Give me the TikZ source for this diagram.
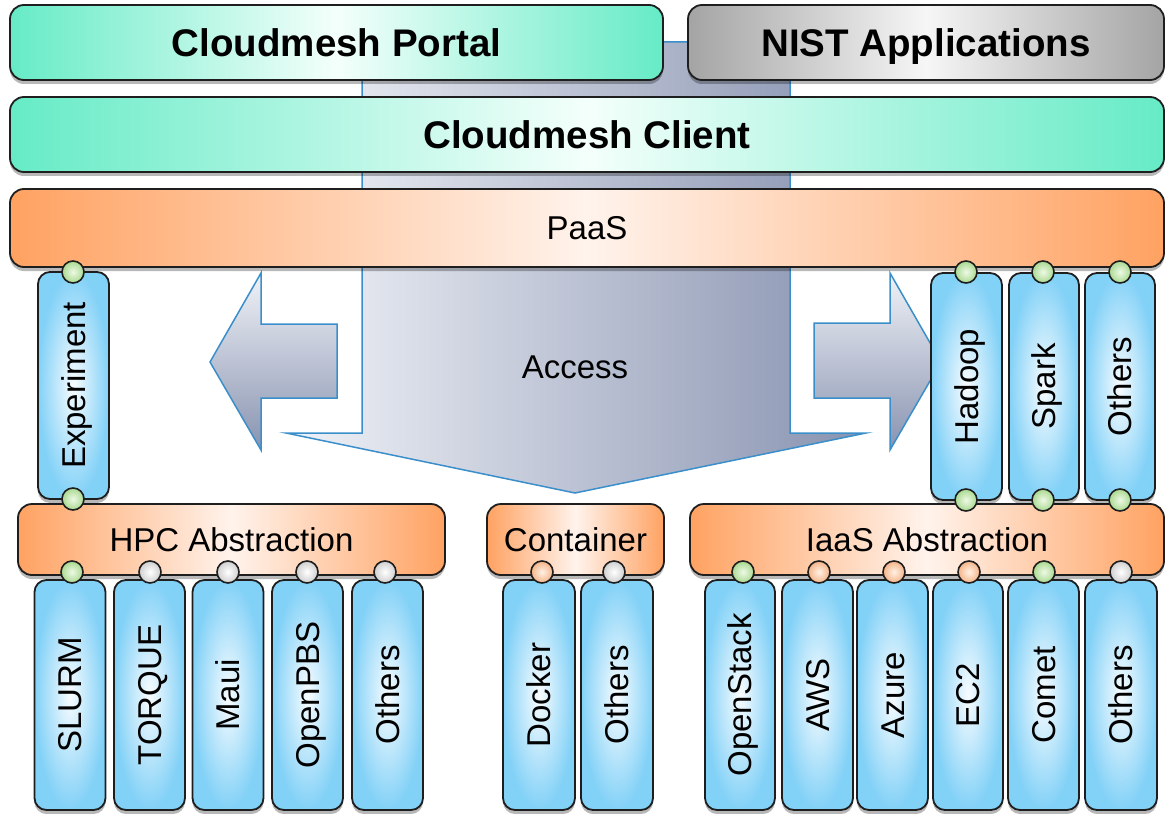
\documentclass[tikz,border=0pt]{standalone}
\usepackage{fontspec}
\setmainfont{Liberation Sans}
\usetikzlibrary{shadows}
\definecolor{mint}{HTML}{66EBC6}
\definecolor{mintlight}{HTML}{F4FFFB}
\definecolor{grayend}{HTML}{A4A4A4}
\definecolor{graymid}{HTML}{F6F6F6}
\definecolor{orng}{HTML}{FFA262}
\definecolor{orngmid}{HTML}{FFF3EC}
\definecolor{colblue}{HTML}{82D1F7}
\definecolor{colin}{HTML}{F8FCFF}
\definecolor{edge}{HTML}{1E1E1E}
\definecolor{arrline}{HTML}{3A8FCB}
\definecolor{arrlight}{HTML}{F0F2F7}
\definecolor{arrdark}{HTML}{8893B0}
\definecolor{grn}{HTML}{A9D98F}
\definecolor{grnin}{HTML}{EEF9E6}
\definecolor{orc}{HTML}{F5B488}
\definecolor{orcin}{HTML}{FFF1E4}
\definecolor{whc}{HTML}{CFCFCF}
\definecolor{whcin}{HTML}{FFFFFF}
\newcommand\vlab[1]{\rotatebox{90}{\raisebox{0pt}[23.6pt][0pt]{#1}}}
\begin{document}
\begin{tikzpicture}[x=1pt,y=-1pt,
  shad/.style={drop shadow={shadow xshift=0pt,shadow yshift=-4pt,opacity=0.28,fill=black}},
  base/.style={draw=edge,line width=1.8pt,rounded corners=14pt,inner sep=0pt,shad},
  bigbox/.style={base,minimum height=75pt,font=\fontsize{38.5}{40}\selectfont\bfseries,text height=27.6pt,text depth=0pt},
  mintbox/.style={bigbox,left color=mint,right color=mint,middle color=mintlight},
  graybox/.style={bigbox,left color=grayend,right color=grayend,middle color=graymid},
  orbox/.style={base,left color=orng,right color=orng,middle color=orngmid,font=\fontsize{33}{36}\selectfont,text height=23.6pt,text depth=0pt},
  col/.style={base,rounded corners=12pt,minimum width=71pt,inner color=colin,outer color=colblue,font=\fontsize{33}{36}\selectfont},
  topcol/.style={col,minimum height=227pt},
  botcol/.style={col,minimum height=230pt},
  port/.style={circle,draw=edge,line width=1.6pt,minimum size=22pt,inner sep=0pt},
  gp/.style={port,inner color=grnin,outer color=grn},
  op/.style={port,inner color=orcin,outer color=orc},
  wp/.style={port,inner color=whcin,outer color=whc},
  flow/.style={draw=arrline,line width=1.5pt},
]
\useasboundingbox (0,0) rectangle (1166,813);

% access arrow (behind)
\path[flow,left color=arrlight,right color=arrdark]
  (362,42) -- (362,433) -- (286,433) -- (575,493) -- (866,433) -- (790,433) -- (790,42) -- cycle;
\path[flow,top color=arrlight,bottom color=arrdark]
  (210,362) -- (261,273) -- (261,324) -- (337,324) -- (337,398) -- (261,398) -- (261,450) -- cycle;
\path[flow,top color=arrlight,bottom color=arrdark]
  (941,362) -- (890,273) -- (890,323) -- (814,323) -- (814,398) -- (890,398) -- (890,450) -- cycle;
\node[font=\fontsize{33}{36}\selectfont] (access) at (575,367) {Access};

% top layers
\node[mintbox,minimum width=653pt] (portal) at (336.5,42.5) {Cloudmesh Portal};
\node[graybox,minimum width=476pt] (nist) at (926,42.5) {NIST Applications};
\node[mintbox,minimum width=1154pt] (client) at (587,134.5) {Cloudmesh Client};
\node[orbox,minimum width=1154pt,minimum height=78pt] (paas) at (587,228) {PaaS};

% abstraction layers
\node[orbox,minimum width=427pt,minimum height=71pt] (hpc) at (231.5,539.5) {HPC Abstraction};
\node[orbox,minimum width=177pt,minimum height=71pt] (cont) at (575.5,539.5) {Container};
\node[orbox,minimum width=474pt,minimum height=71pt] (iaas) at (927,539.5) {IaaS Abstraction};

% upper columns
\node[topcol] (exp) at (73.5,385.5) {\vlab{Experiment}};
\node[topcol] (hadoop) at (966.5,386.5) {\vlab{Hadoop}};
\node[topcol,minimum width=70pt] (spark) at (1044,386.5) {\vlab{Spark}};
\node[topcol,minimum width=70pt] (others1) at (1120,386.5) {\vlab{Others}};

% lower columns
\node[botcol] (slurm) at (70,695) {\vlab{SLURM}};
\node[botcol] (torque) at (149.5,695) {\vlab{TORQUE}};
\node[botcol] (maui) at (228,695) {\vlab{Maui}};
\node[botcol] (openpbs) at (307.5,695) {\vlab{OpenPBS}};
\node[botcol] (others2) at (387.5,695) {\vlab{Others}};
\node[botcol,minimum width=72pt] (docker) at (539,695) {\vlab{Docker}};
\node[botcol,minimum width=72pt] (others3) at (617,695) {\vlab{Others}};
\node[botcol,minimum width=70pt] (openstack) at (740,695) {\vlab{OpenStack}};
\node[botcol] (aws) at (817.5,695) {\vlab{AWS}};
\node[botcol] (azure) at (892.5,695) {\vlab{Azure}};
\node[botcol,minimum width=70pt] (ec2) at (968,695) {\vlab{EC2}};
\node[botcol] (comet) at (1043.5,695) {\vlab{Comet}};
\node[botcol,minimum width=72pt] (others4) at (1121,695) {\vlab{Others}};

% ports
\node[gp] (pexpt) at (73,272) {};
\node[gp] (pexpb) at (73,499) {};
\node[gp] (phadt) at (966,272) {};
\node[gp] (psprt) at (1043,272) {};
\node[gp] (poth1t) at (1120,272) {};
\node[gp] (phadb) at (966,500) {};
\node[gp] (psprb) at (1043,500) {};
\node[gp] (poth1b) at (1120,500) {};

\node[gp] (pslurm) at (72,572) {};
\node[wp] (ptorque) at (150,572) {};
\node[wp] (pmaui) at (228,572) {};
\node[wp] (popenpbs) at (307,572) {};
\node[wp] (poth2) at (385,572) {};
\node[op] (pdocker) at (542,572) {};
\node[wp] (poth3) at (614,572) {};
\node[gp] (popenstack) at (743,572) {};
\node[op] (paws) at (819,572) {};
\node[op] (pazure) at (894,572) {};
\node[op] (pec2) at (969,572) {};
\node[gp] (pcomet) at (1044,572) {};
\node[wp] (poth4) at (1121,572) {};
\end{tikzpicture}
\end{document}
